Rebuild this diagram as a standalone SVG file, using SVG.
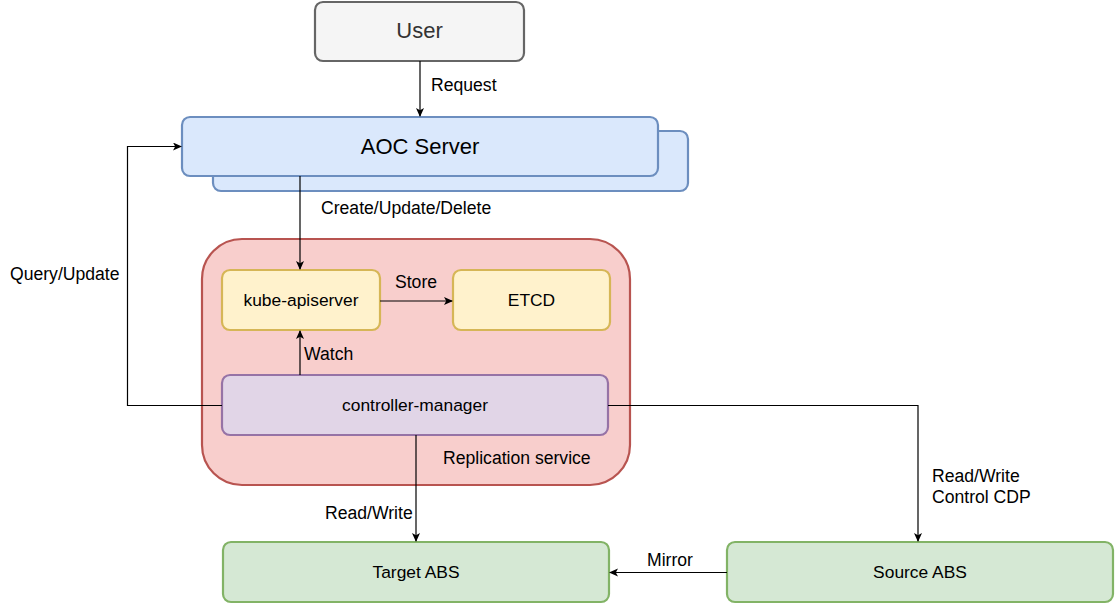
<svg xmlns="http://www.w3.org/2000/svg" width="1116" height="605" viewBox="0 0 1116 605">
<defs>
<marker id="arr" markerWidth="10" markerHeight="10" refX="8" refY="4" orient="auto" markerUnits="userSpaceOnUse">
<path d="M0,0 L9,4 L0,8 L2.2,4 Z" fill="#000"/>
</marker>
<style>
.lbl{font-family:"Liberation Sans",Arial,sans-serif;font-size:17.6px;fill:#000}
.nt{font-family:"Liberation Sans",Arial,sans-serif;font-size:17.4px;fill:#000;text-anchor:middle}
.big{font-family:"Liberation Sans",Arial,sans-serif;font-size:22px;text-anchor:middle}
.edge{fill:none;stroke:#000;stroke-width:1.2}
</style>
</defs>
<rect width="1116" height="605" fill="#fff"/>
<g id="replication-service">
<rect x="202" y="239" width="428" height="246" rx="40" fill="#f8cecc" stroke="#b85450" stroke-width="2.2"/>
<text class="lbl" x="443" y="464">Replication service</text>
</g>
<g id="user">
<rect x="315" y="2" width="209" height="59" rx="8" fill="#f5f5f5" stroke="#666" stroke-width="2.2"/>
<text class="big" x="419.5" y="38" fill="#333">User</text>
</g>
<g id="aoc-server">
<rect x="213" y="131" width="475" height="60" rx="8" fill="#dae8fc" stroke="#6c8ebf" stroke-width="2.2"/>
<rect x="182" y="117" width="476" height="59" rx="8" fill="#dae8fc" stroke="#6c8ebf" stroke-width="2.2"/>
<text class="big" x="420" y="153.5" fill="#000">AOC Server</text>
</g>
<g id="kube-apiserver">
<rect x="222" y="270" width="158" height="60" rx="8" fill="#fff2cc" stroke="#d6b656" stroke-width="2.2"/>
<text class="nt" x="301" y="306">kube-apiserver</text>
</g>
<g id="etcd">
<rect x="453" y="270" width="157" height="60" rx="8" fill="#fff2cc" stroke="#d6b656" stroke-width="2.2"/>
<text class="nt" x="531.5" y="306">ETCD</text>
</g>
<g id="controller-manager">
<rect x="222" y="375" width="386" height="60" rx="8" fill="#e1d5e7" stroke="#9673a6" stroke-width="2.2"/>
<text class="nt" x="415" y="411">controller-manager</text>
</g>
<g id="target-abs">
<rect x="223" y="542" width="386" height="60" rx="8" fill="#d5e8d4" stroke="#82b366" stroke-width="2.2"/>
<text class="nt" x="416" y="578">Target ABS</text>
</g>
<g id="source-abs">
<rect x="727" y="542" width="386" height="60" rx="8" fill="#d5e8d4" stroke="#82b366" stroke-width="2.2"/>
<text class="nt" x="920" y="578">Source ABS</text>
</g>
<g id="connectors">
<path class="edge" d="M420,61 V116" marker-end="url(#arr)"/>
<text class="lbl" x="431" y="91">Request</text>
<path class="edge" d="M300,176 V269" marker-end="url(#arr)"/>
<text class="lbl" x="321" y="214">Create/Update/Delete</text>
<path class="edge" d="M380,301 H452" marker-end="url(#arr)"/>
<text class="lbl" x="395" y="288">Store</text>
<path class="edge" d="M300,375 V331" marker-end="url(#arr)"/>
<text class="lbl" x="304" y="360">Watch</text>
<path class="edge" d="M222,405.5 H127.5 V146.5 H181" marker-end="url(#arr)"/>
<text class="lbl" x="10" y="280">Query/Update</text>
<path class="edge" d="M416,435 V541" marker-end="url(#arr)"/>
<text class="lbl" x="325" y="519">Read/Write</text>
<path class="edge" d="M608,405.5 H918 V541" marker-end="url(#arr)"/>
<text class="lbl" x="932" y="482">Read/Write</text>
<text class="lbl" x="932" y="503">Control CDP</text>
<path class="edge" d="M727,572.5 H610" marker-end="url(#arr)"/>
<text class="lbl" x="647" y="566">Mirror</text>
</g>
</svg>
